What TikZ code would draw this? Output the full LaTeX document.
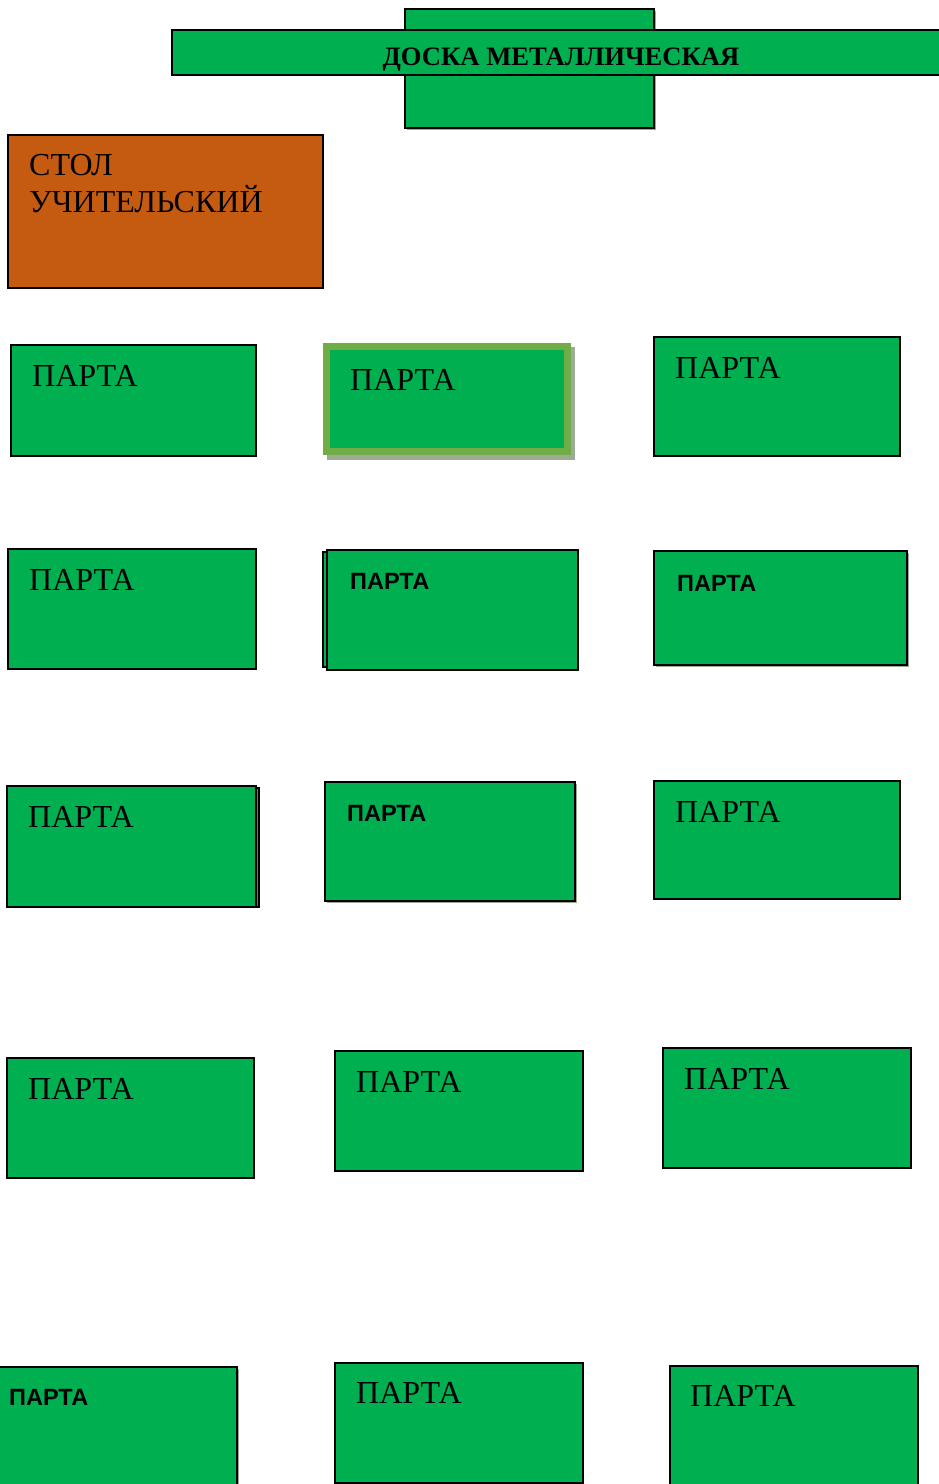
\documentclass[tikz,border=0pt]{standalone}
\usepackage{fontspec}
\setmainfont{Liberation Serif}
\newfontfamily\sansf{Liberation Sans}
\usetikzlibrary{fit}
\definecolor{deskgreen}{HTML}{00B050}
\definecolor{tableorange}{HTML}{C55A11}
\definecolor{rimgreen}{HTML}{70AD47}
\definecolor{shadowgray}{HTML}{9DAA94}
\tikzset{
  box/.style={draw=black, line width=1.6pt, fill=deskgreen, inner sep=0pt, outer sep=0pt},
  tablebox/.style={box, fill=tableorange},
  rimbox/.style={draw=rimgreen, line width=7pt, fill=deskgreen, inner sep=0pt},
  shadowbox/.style={fill=shadowgray, draw=none, inner sep=0pt},
  backbox/.style={draw=black, line width=1.4pt, fill=deskgreen, inner sep=0pt},
  serif/.style={font=\fontsize{32}{37}\selectfont, inner sep=0pt, anchor=base west},
  sanslbl/.style={font=\sansf\bfseries\fontsize{23.5}{27}\selectfont, inner sep=0pt, anchor=base west},
  title/.style={font=\bfseries\fontsize{26.6}{30}\selectfont, inner sep=0pt, anchor=base}
}
\begin{document}
\begin{tikzpicture}[x=1pt,y=-1pt]
\useasboundingbox (0,0) rectangle (939,1484);
\clip (0,0) rectangle (939,1484);
% board
\node[shadowbox, fit={(407,11)(656,130)}] (bshadow) {};
\node[box, fit={(405,9)(654,128)}] (boardv) {};
\node[box, fit={(172,30)(942,75)}] (boardh) {};
\node[title] (boardt) at (561,65) {ДОСКА МЕТАЛЛИЧЕСКАЯ};
% teacher table
\node[tablebox, fit={(8,135)(323,288)}] (table) {};
\node[serif, align=left] (tablet) at (29,212) {СТОЛ\\УЧИТЕЛЬСКИЙ};
% row 1
\node[box, fit={(11,345)(256,456)}] (d11) {};
\node[serif] (t11) at (32,386) {ПАРТА};
\node[shadowbox, fit={(327,347)(575,460)}] (s12) {};
\node[rimbox, fit={(326.5,346.5)(567.5,451.5)}] (d12) {};
\node[serif] (t12) at (350,390) {ПАРТА};
\node[box, fit={(654,337)(900,456)}] (d13) {};
\node[serif] (t13) at (675,378) {ПАРТА};
% row 2
\node[box, fit={(8,549)(256,669)}] (d21) {};
\node[serif] (t21) at (29,590) {ПАРТА};
\node[backbox, fit={(323,552)(574,667)}] (b22) {};
\node[box, fit={(327,550)(578,670)}] (d22) {};
\node[sanslbl] (t22) at (350,589) {ПАРТА};
\node[shadowbox, fit={(656,553)(909,667)}] (s23) {};
\node[box, fit={(654,551)(907,665)}] (d23) {};
\node[sanslbl] (t23) at (677,591) {ПАРТА};
% row 3
\node[backbox, fit={(10,788)(259,907)}] (b31) {};
\node[box, fit={(7,786)(256,907)}] (d31) {};
\node[serif] (t31) at (28,827) {ПАРТА};
\node[shadowbox, fit={(327,784)(577,903)}] (s32) {};
\node[box, fit={(325,782)(575,901)}] (d32) {};
\node[sanslbl] (t32) at (347,821) {ПАРТА};
\node[box, fit={(654,781)(900,899)}] (d33) {};
\node[serif] (t33) at (675,822) {ПАРТА};
% row 4
\node[box, fit={(7,1058)(254,1178)}] (d41) {};
\node[serif] (t41) at (28,1099) {ПАРТА};
\node[box, fit={(335,1051)(583,1171)}] (d42) {};
\node[serif] (t42) at (356,1092) {ПАРТА};
\node[box, fit={(663,1048)(911,1168)}] (d43) {};
\node[serif] (t43) at (684,1089) {ПАРТА};
% row 5
\node[shadowbox, fit={(-5,1369)(239,1490)}] (s51) {};
\node[box, fit={(-5,1367)(237,1490)}] (d51) {};
\node[sanslbl] (t51) at (9,1405) {ПАРТА};
\node[box, fit={(335,1363)(583,1483)}] (d52) {};
\node[serif] (t52) at (356,1403) {ПАРТА};
\node[box, fit={(670,1366)(918,1490)}] (d53) {};
\node[serif] (t53) at (690,1406) {ПАРТА};
\end{tikzpicture}
\end{document}
